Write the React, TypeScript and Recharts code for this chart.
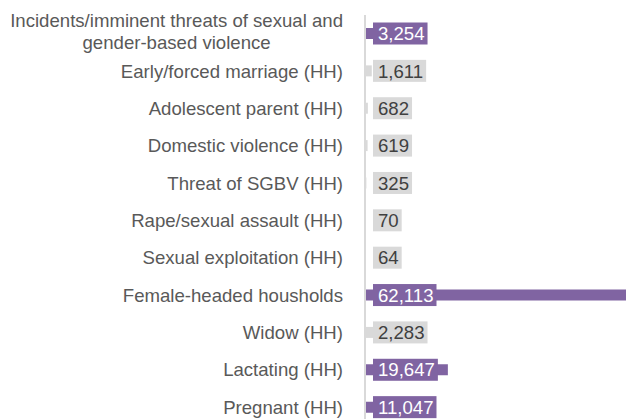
import { BarChart, Bar, XAxis, YAxis, Cell, LabelList } from 'recharts'

const categories = [
  'Incidents/imminent threats of sexual and\ngender-based violence',
  'Early/forced marriage (HH)',
  'Adolescent parent (HH)',
  'Domestic violence (HH)',
  'Threat of SGBV (HH)',
  'Rape/sexual assault (HH)',
  'Sexual exploitation (HH)',
  'Female-headed housholds',
  'Widow (HH)',
  'Lactating (HH)',
  'Pregnant (HH)',
]
const counts = [3254, 1611, 682, 619, 325, 70, 64, 62113, 2283, 19647, 11047]
const highlighted = [true, false, false, false, false, false, false, true, false, true, true]

const data = categories.map((name, i) => ({ name, value: counts[i], hi: highlighted[i] }))

const PURPLE = '#8064A2'
const GRAY = '#D9D9D9'
const FONT = '"Liberation Sans", Arial, sans-serif'
const FS = 18.6

let ctx: CanvasRenderingContext2D | null = null
function textWidth(s: string, size: number) {
  if (!ctx) ctx = document.createElement('canvas').getContext('2d')
  if (!ctx) return s.length * size * 0.55
  ctx.font = `${size}px "Liberation Sans"`
  return ctx.measureText(s).width
}

const fmt = (v: number) => v.toLocaleString('en-US')

function CategoryTick(props: any) {
  const { x, y, payload } = props
  const lines = String(payload.value).split('\n')
  if (lines.length === 1) {
    return (
      <text x={x} y={y} dy="0.35em" textAnchor="end" fontSize={FS} fill="#595959" fontFamily={FONT}>
        {lines[0]}
      </text>
    )
  }
  const w = Math.max(...lines.map((l) => textWidth(l, FS)))
  const cx = x - w / 2
  return (
    <text x={cx} y={y} textAnchor="middle" fontSize={FS} fill="#595959" fontFamily={FONT}>
      {lines.map((l, i) => (
        <tspan key={i} x={cx} y={y - 13 + i * 22} dy="0.35em">
          {l}
        </tspan>
      ))}
    </text>
  )
}

function ValueLabel(props: any) {
  const { x, y, height, value, index } = props
  const hi = highlighted[index]
  const txt = fmt(Number(value))
  const tw = textWidth(txt, FS)
  const cy = y + height / 2
  return (
    <g>
      <rect x={x + 8} y={cy - 11} width={tw + 8} height={22} fill={hi ? PURPLE : GRAY} />
      <text x={x + 13} y={cy} dy="0.36em" fontSize={FS} fill={hi ? '#ffffff' : '#404040'} fontFamily={FONT}>
        {txt}
      </text>
    </g>
  )
}

export default function App() {
  return (
    <div style={{ position: 'fixed', top: 0, left: 0, width: 626, height: 419, overflow: 'hidden', background: '#fff' }}>
      <BarChart
        width={627}
        height={426}
        data={data}
        layout="vertical"
        margin={{ top: 15, right: 0, bottom: 0, left: 0 }}
        barCategoryGap={0}
      >
        <XAxis type="number" hide domain={[0, 62113]} />
        <YAxis
          type="category"
          dataKey="name"
          width={365}
          interval={0}
          tickLine={false}
          tickSize={0}
          tickMargin={22}
          axisLine={{ stroke: GRAY, strokeWidth: 2 }}
          tick={<CategoryTick />}
        />
        <Bar dataKey="value" barSize={11} isAnimationActive={false}>
          {data.map((d, i) => (
            <Cell key={i} fill={d.hi ? PURPLE : GRAY} />
          ))}
          <LabelList dataKey="value" content={<ValueLabel />} />
        </Bar>
      </BarChart>
    </div>
  )
}
